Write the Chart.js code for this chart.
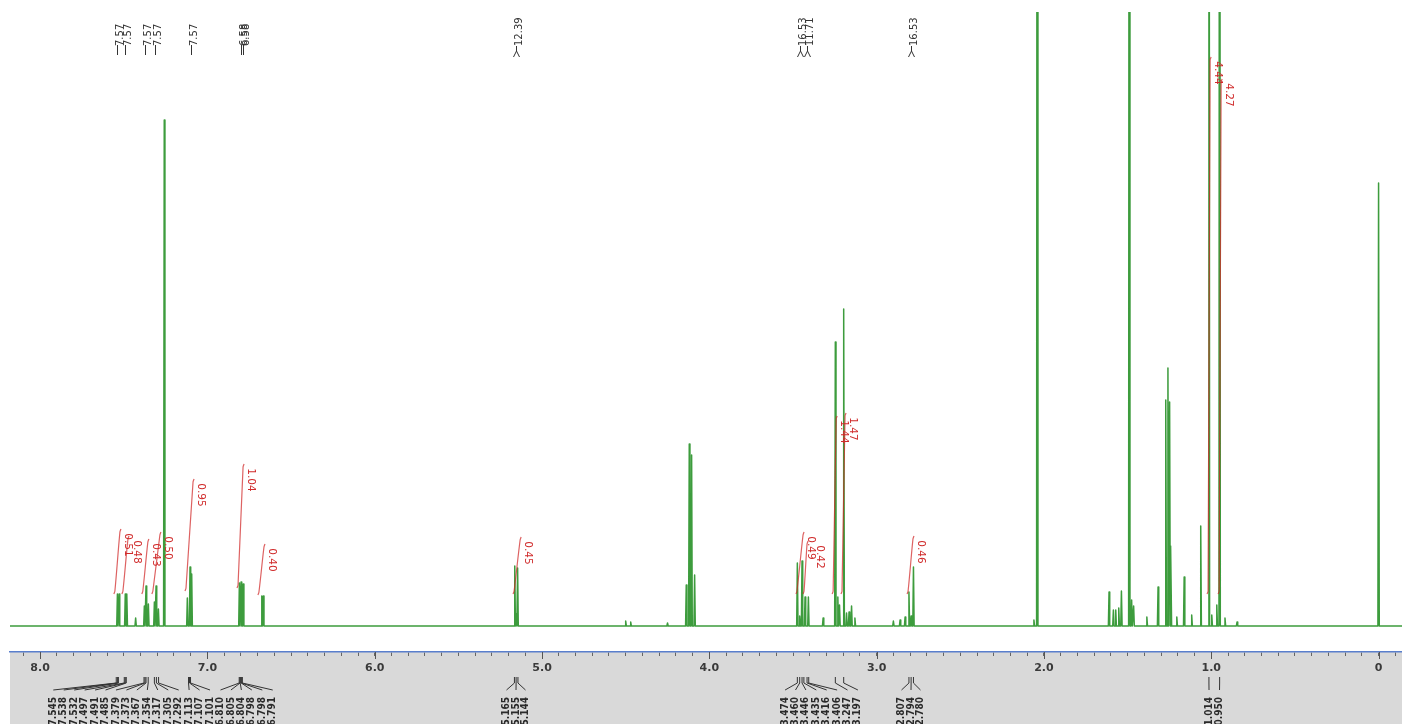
<!DOCTYPE html>
<html><head><meta charset="utf-8">
<script src="https://cdn.jsdelivr.net/npm/chart.js@4.4.1/dist/chart.umd.min.js"></script>
<style>html,body{margin:0;padding:0;background:#fff;}canvas{display:block;}</style>
</head><body>
<canvas id="c" width="1402" height="724"></canvas>
<script>
// ---- spectrum peaks (ppm, intensity) ----
const peakPpm = [
  7.538, 7.528, 7.491, 7.482, 7.429, 7.377, 7.367, 7.353, 7.317, 7.307,
  7.293, 7.258, 7.120, 7.104, 7.094, 6.809, 6.799, 6.786, 6.675, 6.666,
  5.163, 5.155, 5.146, 4.500, 4.470, 4.250, 4.138, 4.120, 4.106, 4.088,
  3.474, 3.460, 3.446, 3.428, 3.408, 3.320, 3.247, 3.232, 3.222, 3.197,
  3.180, 3.165, 3.150, 3.130, 2.900, 2.860, 2.830, 2.807, 2.794, 2.780,
  2.060, 2.040, 1.611, 1.585, 1.571, 1.553, 1.537, 1.490, 1.476, 1.464,
  1.385, 1.318, 1.272, 1.259, 1.249, 1.241, 1.206, 1.162, 1.117, 1.063,
  1.014, 0.997, 0.967, 0.950, 0.918, 0.846, 0.000
];
const peakHeight = [
  32, 32, 32, 32, 8, 20, 40, 22, 24, 40,
  17, 506, 28, 59, 52, 43, 44, 42, 30, 30,
  60, 12, 58, 5, 4, 3, 41, 182, 171, 51,
  63, 10, 65, 29, 29, 8, 284, 29, 21, 317,
  13, 14, 20, 8, 5, 6, 9, 34, 10, 59,
  6, 1500, 34, 16, 16, 18, 35, 1400, 26, 20,
  9, 39, 226, 258, 224, 80, 9, 49, 11, 100,
  1600, 11, 21, 1550, 8, 4, 443
];

// ---- integrals ----
const integralValue = ['0.51','0.48','0.43','0.50','0.95','1.04','0.40','0.45','0.49','0.42','1.44','1.47','0.46','4.44','4.27'];
const integralFrom  = [7.553, 7.505, 7.386, 7.326, 7.128, 6.817, 6.692, 5.167, 3.476, 3.434, 3.260, 3.207, 2.812, 1.019, 0.953];
const integralTo    = [7.523, 7.475, 7.356, 7.284, 7.086, 6.787, 6.662, 5.131, 3.440, 3.416, 3.242, 3.189, 2.783, 1.007, 0.941];
const integralBase  = [33, 33, 33, 33, 36, 39, 32, 33, 33, 33, 33, 33, 33, 33, 33];
const integralTop   = [96, 89, 86, 93, 146, 161, 81, 88, 93, 84, 209, 212, 89, 568, 546];

// ---- multiplet / coupling labels (top) ----
const multipletPpm   = [7.540, 7.490, 7.371, 7.311, 7.100, 6.801, 6.790, 5.155, 3.460, 3.416, 2.794];
const multipletLabel = ['7.57','7.57','7.57','7.57','7.57','6.58','6.58','12.39','16.53','11.71','16.53'];
const multipletType  = ['m','m','m','m','m','m','m','d','d','d','d'];

// ---- peak picking labels (bottom) ----
const pickedGroupA = [7.545, 7.538, 7.532, 7.497, 7.491, 7.485, 7.379, 7.373, 7.367, 7.354, 7.317, 7.305, 7.292, 7.113, 7.107, 7.101, 6.810, 6.805, 6.804, 6.798, 6.798, 6.791];
const pickedGroupB = [5.165, 5.155, 5.144];
const pickedGroupC = [3.474, 3.460, 3.446, 3.435, 3.416, 3.406, 3.247, 3.197];
const pickedGroupD = [2.807, 2.794, 2.780];
const pickedGroupE = [1.014, 0.950];

// ---- axis ----
const majorTicks = [8, 7, 6, 5, 4, 3, 2, 1, 0];

// build spectrum line (narrow spikes on a flat baseline)
const halfWidth = 0.004;
let spec = [];
peakPpm.forEach((p, i) => {
  spec.push({x: p + halfWidth, y: 0});
  spec.push({x: p, y: peakHeight[i]});
  spec.push({x: p - halfWidth, y: 0});
});
spec.push({x: 8.3, y: 0});
spec.push({x: -0.3, y: 0});
spec.sort((a, b) => b.x - a.x);

const hook = 0.006;
const integralSets = integralValue.map((v, i) => {
  const b = integralBase[i], t = integralTop[i];
  return {
    type: 'line',
    data: [
      {x: integralFrom[i] + hook, y: b - 1},
      {x: integralFrom[i], y: b + 2},
      {x: integralTo[i], y: t - 2},
      {x: integralTo[i] - hook, y: t + 1}
    ],
    borderColor: 'rgba(208,38,38,0.72)',
    borderWidth: 1.2,
    pointRadius: 0,
    tension: 0.3,
    order: 1
  };
});

const overlay = {
  id: 'overlay',
  beforeDraw(chart) {
    const {ctx, chartArea: a} = chart;
    ctx.save();
    ctx.fillStyle = '#d9d9d9';
    ctx.fillRect(a.left, a.bottom, a.right - a.left, chart.height - a.bottom);
    ctx.restore();
  },
  afterDraw(chart) {
    const {ctx, chartArea: a} = chart;
    const xs = chart.scales.x, ys = chart.scales.y;
    ctx.save();
    // major ticks longer
    ctx.strokeStyle = '#555';
    ctx.lineWidth = 1;
    majorTicks.forEach(v => {
      const px = Math.round(xs.getPixelForValue(v)) + 0.5;
      ctx.beginPath(); ctx.moveTo(px, a.bottom); ctx.lineTo(px, a.bottom + 7); ctx.stroke();
    });
    // integral labels (keep a minimum spacing between neighbours)
    ctx.fillStyle = '#d02a2a';
    ctx.font = '10.5px "DejaVu Sans", sans-serif';
    ctx.textAlign = 'center';
    ctx.textBaseline = 'middle';
    let lastX = -100;
    integralValue.forEach((v, i) => {
      let px = xs.getPixelForValue(integralTo[i]) + 8;
      if (px - lastX < 8.5) px = lastX + 8.5;
      lastX = px;
      const py = ys.getPixelForValue(integralTop[i]) + 15;
      ctx.save(); ctx.translate(px, py); ctx.rotate(Math.PI / 2); ctx.fillText(v, 0, 0); ctx.restore();
    });
    // multiplet labels on top
    ctx.fillStyle = '#333';
    ctx.strokeStyle = '#333';
    ctx.font = '10px "DejaVu Sans", sans-serif';
    ctx.textAlign = 'left';
    multipletPpm.forEach((p, i) => {
      const px = Math.round(xs.getPixelForValue(p)) + 0.5;
      ctx.lineWidth = 1;
      if (multipletType[i] === 'm') {
        ctx.beginPath(); ctx.moveTo(px, 45); ctx.lineTo(px, 55); ctx.stroke();
      } else {
        ctx.beginPath(); ctx.moveTo(px, 46); ctx.lineTo(px, 51);
        ctx.moveTo(px - 3, 57); ctx.lineTo(px, 51); ctx.lineTo(px + 3, 57); ctx.stroke();
      }
      ctx.save(); ctx.translate(px + 3, 46); ctx.rotate(-Math.PI / 2);
      ctx.fillText(multipletLabel[i], 0, 0); ctx.restore();
    });
    // bottom peak-pick labels
    const groups = [
      {vals: pickedGroupA, center: 163, step: 10.45},
      {vals: pickedGroupB, center: 516, step: 9.5},
      {vals: pickedGroupC, center: 821.5, step: 10.4},
      {vals: pickedGroupD, center: 911, step: 9.5},
      {vals: pickedGroupE, center: null, step: 10.5}
    ];
    ctx.strokeStyle = '#333';
    ctx.fillStyle = '#2a2a2a';
    ctx.font = 'bold 10px "DejaVu Sans Condensed", "DejaVu Sans", sans-serif';
    ctx.textAlign = 'right';
    ctx.textBaseline = 'middle';
    groups.forEach(g => {
      const pks = g.vals.map(v => xs.getPixelForValue(v));
      const c = g.center === null ? pks.reduce((s, v) => s + v, 0) / pks.length : g.center;
      const n = pks.length;
      pks.forEach((pk, i) => {
        const lx = c + (i - (n - 1) / 2) * g.step;
        ctx.lineWidth = 1;
        ctx.beginPath();
        ctx.moveTo(pk, 677); ctx.lineTo(pk, 683); ctx.lineTo(lx, 690);
        ctx.stroke();
        ctx.save(); ctx.translate(lx, 697); ctx.rotate(-Math.PI / 2);
        ctx.fillText(g.vals[i].toFixed(3), 0, 0); ctx.restore();
      });
    });
    ctx.restore();
  }
};

new Chart(document.getElementById('c'), {
  type: 'line',
  data: {
    datasets: [
      {
        data: spec,
        borderColor: '#3d9c3d',
        borderWidth: 1.5,
        pointRadius: 0,
        tension: 0,
        borderJoinStyle: 'round',
        order: 2
      },
      ...integralSets
    ]
  },
  options: {
    responsive: false,
    animation: false,
    devicePixelRatio: 1,
    layout: {padding: {left: 10, right: 0, top: 12, bottom: 0}},
    plugins: {legend: {display: false}, tooltip: {enabled: false}},
    scales: {
      x: {
        type: 'linear',
        reverse: true,
        min: -0.14,
        max: 8.18,
        afterFit(s) { s.height = 72; },
        border: {display: true, color: '#5a7fcc', width: 1.5},
        grid: {drawOnChartArea: false, drawTicks: true, tickLength: 4, tickColor: '#666', lineWidth: 1},
        ticks: {
          stepSize: 0.1,
          autoSkip: false,
          includeBounds: false,
          maxRotation: 0,
          padding: 6,
          color: '#3a3a3a',
          font: {family: 'DejaVu Sans', size: 11, weight: 'bold'},
          callback(v) {
            const r = Math.round(v);
            if (Math.abs(v - r) > 1e-6) return '';
            return r === 0 ? '0' : r.toFixed(1);
          }
        }
      },
      y: {
        type: 'linear',
        display: false,
        min: -26,
        max: 614
      }
    }
  },
  plugins: [overlay]
});
</script>
</body></html>
